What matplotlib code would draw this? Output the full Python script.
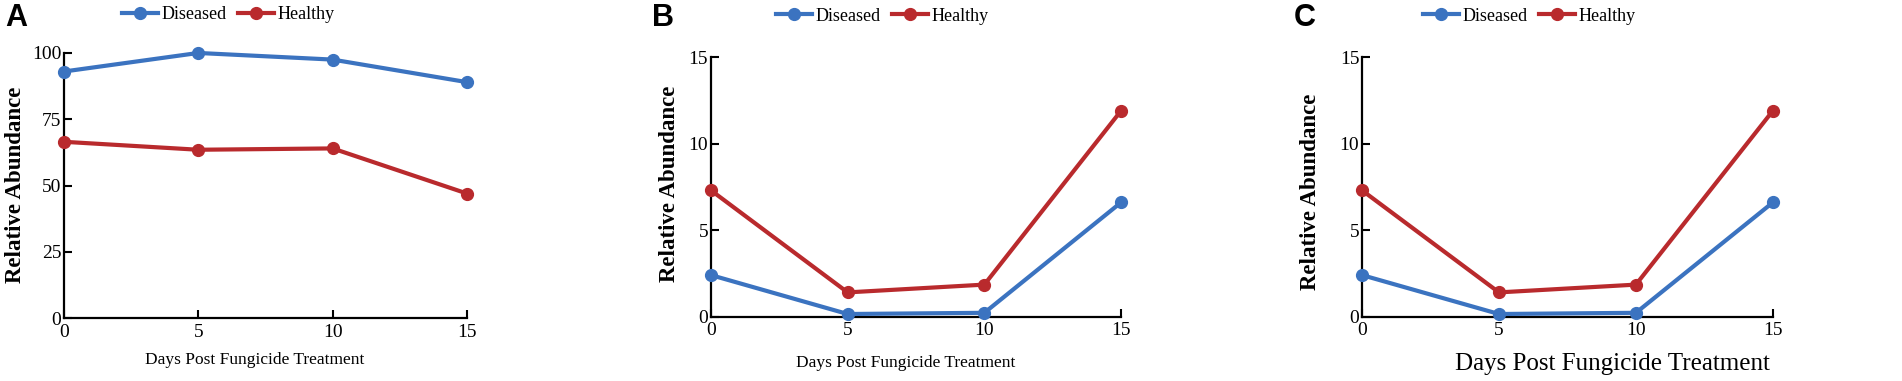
import matplotlib
matplotlib.use("Agg")
from matplotlib import pyplot as plt
from matplotlib.lines import Line2D

days = [0, 5, 10, 15]
# panel A
a_diseased = [93, 100, 97.5, 89]
a_healthy = [66.5, 63.5, 64, 47]
# panels B and C
bc_diseased = [2.4, 0.15, 0.22, 6.6]
bc_healthy = [7.3, 1.4, 1.85, 11.9]

blue = "#3b73c0"
red = "#b92a2d"
serif = ["Liberation Serif", "DejaVu Serif"]

plt.rcParams["font.family"] = serif

fig = plt.figure(figsize=(19.02, 3.81), dpi=100)

panels = [
    # letter, rect, diseased, healthy, ymax, yticks, letter pos, legend center, xlabel (x, y, size), ylabel (x, y)
    ("A", [0.0336, 0.165, 0.2119, 0.696], a_diseased, a_healthy, 100, [0, 25, 50, 75, 100],
     (0.003, 0.952), (0.120, 0.961), (0.134, 0.055, 12.5), (0.008, 0.515)),
    ("B", [0.3738, 0.169, 0.2156, 0.681], bc_diseased, bc_healthy, 15, [0, 5, 10, 15],
     (0.343, 0.952), (0.464, 0.958), (0.476, 0.047, 12.5), (0.352, 0.517)),
    ("C", [0.7161, 0.169, 0.2160, 0.681], bc_diseased, bc_healthy, 15, [0, 5, 10, 15],
     (0.680, 0.952), (0.804, 0.958), (0.848, 0.045, 18), (0.689, 0.496)),
]

for letter, rect, dis, hea, ymax, yt, lpos, legpos, xl, yl in panels:
    ax = fig.add_axes(rect)
    ax.plot(days, dis, color=blue, lw=3, marker="o", ms=8.5, clip_on=False, zorder=3)
    ax.plot(days, hea, color=red, lw=3, marker="o", ms=8.5, clip_on=False, zorder=3)
    ax.set_xlim(0, 15)
    ax.set_ylim(0, ymax)
    ax.set_xticks(days)
    ax.set_yticks(yt)
    for s in ["top", "right"]:
        ax.spines[s].set_visible(False)
    ax.spines["left"].set_linewidth(1.6)
    ax.spines["bottom"].set_linewidth(1.6)
    ax.tick_params(direction="in", length=6, width=1.5, labelsize=14, pad=4)
    ax.tick_params(axis="y", pad=2)

    fig.text(xl[0], xl[1], "Days Post Fungicide Treatment", ha="center", va="center",
             fontsize=xl[2])
    fig.text(yl[0], yl[1], "Relative Abundance", rotation=90, ha="center", va="center",
             fontsize=16.5, fontweight="bold")
    fig.text(lpos[0], lpos[1], letter, ha="left", va="center", fontsize=22,
             fontweight="bold", family="Liberation Sans")

    handles = [Line2D([], [], color=blue, lw=3, marker="o", ms=8.5),
               Line2D([], [], color=red, lw=3, marker="o", ms=8.5)]
    ax.legend(handles, ["Diseased", "Healthy"], loc="center", ncol=2,
              bbox_to_anchor=legpos, bbox_transform=fig.transFigure, frameon=False,
              fontsize=13, handlelength=2.0, handletextpad=0.2, columnspacing=0.6,
              borderpad=0)

fig.savefig("out.png", dpi=100)
